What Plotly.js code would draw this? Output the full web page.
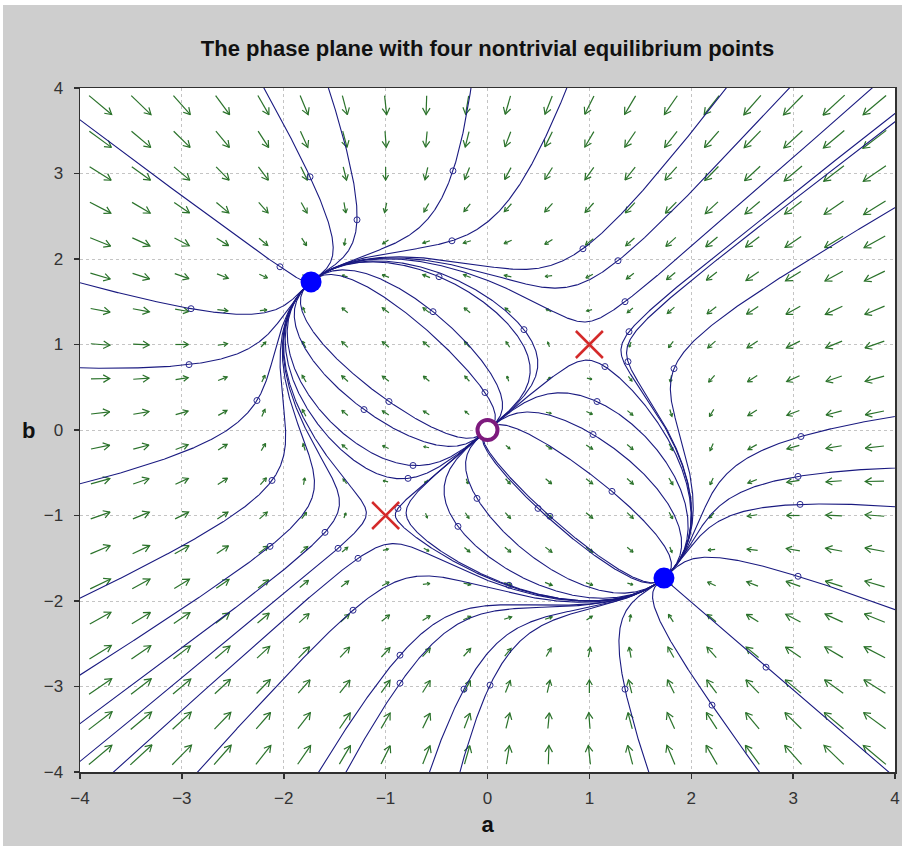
<!DOCTYPE html>
<html><head><meta charset="utf-8">
<script src="https://cdn.plot.ly/plotly-3.0.1.min.js"></script>
<style>
html,body{margin:0;padding:0;background:#ffffff;width:908px;height:846px;overflow:hidden}
#chart{position:absolute;left:3px;top:5px;width:899px;height:841px}
</style></head>
<body><div id="chart"></div>
<script>
// ---- data ----
const xTicks = [-4, -3, -2, -1, 0, 1, 2, 3, 4];
const yTicks = [-4, -3, -2, -1, 0, 1, 2, 3, 4];
// system:  a' = 4a - 2b - a(a^2+b^2),   b' = -2a + 4b - b(a^2+b^2)
const coefA = [4, -2];
const coefB = [-2, 4];
const coefCubic = [-1];
// equilibrium points
const sinkA = [-1.732, 1.732];
const sinkB = [1.732, -1.732];
const sourceA = [0];
const sourceB = [0];
const saddleA = [1, -1];
const saddleB = [1, -1];
// direction-field sample points
const fieldA = [-3.8,-3.4,-3.0,-2.6,-2.2,-1.8,-1.4,-1.0,-0.6,-0.2,0.2,0.6,1.0,1.4,1.8,2.2,2.6,3.0,3.4,3.8];
const fieldB = [-3.8,-3.4,-3.0,-2.6,-2.2,-1.8,-1.4,-1.0,-0.6,-0.2,0.2,0.6,1.0,1.4,1.8,2.2,2.6,3.0,3.4,3.8];
// initial conditions of the solution curves (small circles)
const startA = [-1.742,-0.339,-1.281,-0.349,0.937,1.281,-2.037,-0.476,-2.910,-0.535,1.350,0.358,1.389,1.379,1.153,1.831,-2.930,-2.263,-0.967,-0.025,-1.212,1.075,1.036,3.077,-0.731,-0.780,-2.115,-0.103,1.222,3.048,3.068,-0.879,0.496,0.613,-0.290,-1.595,-2.135,-1.467,-1.271,3.048,0.211,-1.320,-0.859,2.734,-0.859,0.025,-0.231,1.350,2.204];
const startB = [2.961,3.031,2.458,2.213,2.120,1.980,1.909,1.793,1.419,1.384,1.501,1.174,1.150,0.800,0.742,0.718,0.765,0.345,0.333,0.438,0.239,0.333,-0.053,-0.076,-0.415,-0.566,-0.590,-0.800,-0.718,-0.543,-0.870,-0.917,-0.917,-1.010,-1.127,-1.197,-1.361,-1.384,-1.501,-1.711,-1.816,-2.108,-2.634,-2.774,-2.961,-2.984,-3.031,-3.031,-3.218];

// ---- layout geometry ----
const W = 899, H = 841;
const M = {l: 77, r: 7, t: 83, b: 74};
const xRange = [xTicks[0], xTicks[xTicks.length-1]];
const yRange = [yTicks[0], yTicks[yTicks.length-1]];
const sx = (W - M.l - M.r) / (xRange[1]-xRange[0]);
const sy = (H - M.t - M.b) / (yRange[1]-yRange[0]);

function field(a, b){
  const r2 = a*a + b*b;
  return [coefA[0]*a + coefA[1]*b + coefCubic[0]*a*r2,
          coefB[0]*a + coefB[1]*b + coefCubic[0]*b*r2];
}
const eqA = sinkA.concat(sourceA, saddleA);
const eqB = sinkB.concat(sourceB, saddleB);

function unitField(a, b, dir){
  const f = field(a, b);
  const n = Math.hypot(f[0], f[1]);
  if (n < 1e-12) return [0, 0];
  return [dir*f[0]/n, dir*f[1]/n];
}
function integrate(a0, b0, dir){
  const pts = [[a0, b0]];
  let a = a0, b = b0;
  const h = 0.008;
  for (let i = 0; i < 6000; i++){
    const k1 = unitField(a, b, dir);
    const k2 = unitField(a + h/2*k1[0], b + h/2*k1[1], dir);
    const k3 = unitField(a + h/2*k2[0], b + h/2*k2[1], dir);
    const k4 = unitField(a + h*k3[0], b + h*k3[1], dir);
    a += h/6*(k1[0] + 2*k2[0] + 2*k3[0] + k4[0]);
    b += h/6*(k1[1] + 2*k2[1] + 2*k3[1] + k4[1]);
    pts.push([a, b]);
    if (Math.abs(a) > 4.3 || Math.abs(b) > 4.3) break;
    let stop = false;
    for (let e = 0; e < eqA.length; e++){
      if (Math.hypot(a - eqA[e], b - eqB[e]) < 0.012){ pts.push([eqA[e], eqB[e]]); stop = true; break; }
    }
    if (stop) break;
    const f = field(a, b);
    if (Math.hypot(f[0], f[1]) < 1e-6) break;
  }
  return pts;
}

// solution curves
const curveX = [], curveY = [];
for (let i = 0; i < startA.length; i++){
  const back = integrate(startA[i], startB[i], -1).reverse();
  const fwd = integrate(startA[i], startB[i], 1);
  const all = back.concat(fwd.slice(1));
  all.forEach(p => { curveX.push(p[0]); curveY.push(p[1]); });
  curveX.push(null); curveY.push(null);
}

// direction field arrows (centred on the sample points, drawn in screen space)
const arrX = [], arrY = [];
fieldA.forEach(a => {
  fieldB.forEach(b => {
    const f = field(a, b);
    const mag = Math.hypot(f[0], f[1]);
    if (mag < 1e-9) return;
    let px = f[0]*sx, py = f[1]*sy;
    const pn = Math.hypot(px, py);
    px /= pn; py /= pn;
    const L = Math.min(30, 4.3*Math.pow(mag, 0.4));
    const tailA = a - px*L/2/sx, tailB = b - py*L/2/sy;
    const tipA = a + px*L/2/sx, tipB = b + py*L/2/sy;
    const hl = Math.min(7.5, 0.45*L);
    const ang = 30*Math.PI/180;
    const bx = -px, by = -py;
    const b1x = bx*Math.cos(ang) - by*Math.sin(ang), b1y = bx*Math.sin(ang) + by*Math.cos(ang);
    const b2x = bx*Math.cos(-ang) - by*Math.sin(-ang), b2y = bx*Math.sin(-ang) + by*Math.cos(-ang);
    arrX.push(tailA, tipA, null, tipA + b1x*hl/sx, tipA, tipA + b2x*hl/sx, null);
    arrY.push(tailB, tipB, null, tipB + b1y*hl/sy, tipB, tipB + b2y*hl/sy, null);
  });
});

const traces = [
  {type:'scatter', mode:'lines', x:arrX, y:arrY, hoverinfo:'skip',
   line:{color:'#2a722a', width:1.2}, showlegend:false},
  {type:'scatter', mode:'lines', x:curveX, y:curveY, hoverinfo:'skip',
   line:{color:'#1a1a80', width:1.1}, showlegend:false},
  {type:'scatter', mode:'markers', x:startA, y:startB,
   marker:{symbol:'circle-open', size:6, color:'#2a2a90', line:{width:1, color:'#2a2a90'}}, showlegend:false},
  {type:'scatter', mode:'markers', x:sinkA, y:sinkB,
   marker:{symbol:'circle', size:21, color:'#0000ff', line:{width:0}}, showlegend:false},
  {type:'scatter', mode:'markers', x:sourceA, y:sourceB,
   marker:{symbol:'circle', size:20, color:'#ffffff', line:{width:4, color:'#7d1a7d'}}, showlegend:false},
  {type:'scatter', mode:'markers', x:saddleA, y:saddleB,
   marker:{symbol:'x-thin', size:27, color:'#d42a2a', line:{width:2.5, color:'#d42a2a'}}, showlegend:false}
];

const axisCommon = {
  showgrid:true, gridcolor:'#c4c4c4', griddash:'3px,3px', gridwidth:1,
  zeroline:false, showline:true, mirror:true, linecolor:'#303030', linewidth:1.5,
  ticks:'outside', ticklen:5, tickcolor:'#303030', tickwidth:1.5,
  tickfont:{family:'Liberation Sans, Arial, sans-serif', size:17, color:'#333333'}
};

const layout = {
  width:W, height:H, margin:M,
  paper_bgcolor:'#cecece', plot_bgcolor:'#ffffff',
  title:{text:'The phase plane with four nontrivial equilibrium points',
         font:{family:'Liberation Sans, Arial, sans-serif', size:22, color:'#111111', weight:'bold'},
         x:0.5, xref:'paper', y:1-(43.5/H), yref:'container', yanchor:'middle'},
  xaxis:Object.assign({}, axisCommon, {range:xRange, tickvals:xTicks, ticklabelstandoff:5,
         title:{text:'<b>a</b>', font:{family:'Liberation Sans, Arial, sans-serif', size:22, color:'#111111'}, standoff:9}}),
  yaxis:Object.assign({}, axisCommon, {range:yRange, tickvals:yTicks, ticklabelstandoff:7}),
  annotations:[{text:'<b>b</b>', xref:'paper', yref:'paper', x:-0.063, y:0.5, showarrow:false,
                xanchor:'center', yanchor:'middle',
                font:{family:'Liberation Sans, Arial, sans-serif', size:22, color:'#111111'}}],
  showlegend:false
};

Plotly.newPlot('chart', traces, layout, {displayModeBar:false, staticPlot:true});
</script>
</body></html>
